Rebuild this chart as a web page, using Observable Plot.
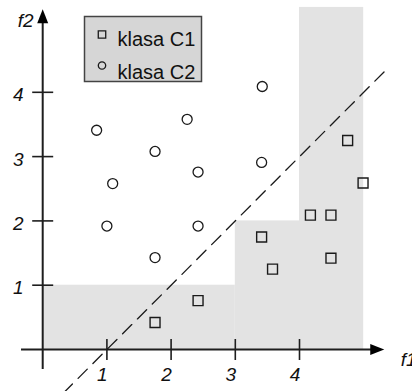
<!DOCTYPE html>
<html>
<head>
<meta charset="utf-8">
<script src="https://cdn.jsdelivr.net/npm/d3@7"></script>
<script src="https://cdn.jsdelivr.net/npm/@observablehq/plot@0.6"></script>
<style>
  html, body { margin: 0; padding: 0; background: #fff; }
  #chart svg { display: block; }
</style>
</head>
<body>
<div id="chart"></div>
<script>
// Class C1 samples (squares)
const c1X = [1.75, 2.42, 3.41, 3.58, 4.17, 4.49, 4.49, 4.75, 4.99];
const c1Y = [0.42, 0.76, 1.75, 1.25, 2.09, 2.09, 1.42, 3.25, 2.59];

// Class C2 samples (circles)
const c2X = [3.42, 2.25, 0.84, 1.75, 2.42, 3.41, 1.09, 1.00, 2.42, 1.75];
const c2Y = [4.09, 3.58, 3.41, 3.08, 2.76, 2.91, 2.58, 1.92, 1.92, 1.43];

// Staircase decision region for C1
const stepX1 = [0, 3, 4];
const stepX2 = [3, 4, 5];
const stepTop = [1, 2, 5.32];

// Linear boundary f2 = f1 - 1
const boundaryX = [0.32, 5.33];
const boundaryY = [-0.68, 4.33];

// Axes
const xTicks = [1, 2, 3, 4];
const yTicks = [1, 2, 3, 4];
const xAxisEnds = [-0.33, 5.32];
const yAxisEnds = [-0.31, 5.29];
const axisNames = ["f1", "f2"];

// Legend
const legendLabels = ["klasa C1", "klasa C2"];
const legendSymbols = ["square", "circle"];

const regions = stepX1.map((x1, i) => ({x1, x2: stepX2[i], top: stepTop[i]}));
const c1 = c1X.map((x, i) => ({x, y: c1Y[i]}));
const c2 = c2X.map((x, i) => ({x, y: c2Y[i]}));
const boundary = boundaryX.map((x, i) => ({x, y: boundaryY[i]}));

// Filled arrow head, tip at the origin, pointing up
const arrowHead = {
  draw(ctx) {
    ctx.moveTo(0, 0);
    ctx.lineTo(-5.5, 14);
    ctx.lineTo(5.5, 14);
    ctx.closePath();
  }
};
// Tick that crosses the axis
const crossTick = {
  draw(ctx) {
    ctx.moveTo(0, -10.5);
    ctx.lineTo(0, 10.5);
  }
};

const axisColor = "#1e1e1e";
const ink = "#1a1a1a";
const textColor = "#111";

const legendMarks = legendLabels.flatMap((label, i) => [
  Plot.dot([label], {
    frameAnchor: "top-left", dx: 101.5, dy: 34 + i * 31,
    symbol: legendSymbols[i], r: legendSymbols[i] === "square" ? 4.2 : 3.7,
    fill: "none", stroke: ink, strokeWidth: 1.3
  }),
  Plot.text([label], {
    frameAnchor: "top-left", dx: 117, dy: 31.5 + i * 32.5,
    text: d => d, textAnchor: "start", fontSize: 20, fill: textColor
  })
]);

const chart = Plot.plot({
  width: 412,
  height: 391,
  margin: 0,
  style: {fontFamily: "'Liberation Sans', Arial, sans-serif", background: "#fff"},
  x: {domain: [0, 5], range: [42.2, 363.2], axis: null},
  y: {domain: [0, 5], range: [349, 27.5], axis: null},
  marks: [
    // decision region
    Plot.rect(regions, {x1: "x1", x2: "x2", y1: 0, y2: "top", fill: "#e3e3e3"}),
    // legend box
    Plot.frame({fill: "#d6d6d6", stroke: "#444", strokeWidth: 1.5,
      insetLeft: 84, insetTop: 16, insetRight: 211, insetBottom: 310}),
    ...legendMarks,
    // axes
    Plot.ruleY([0], {x1: xAxisEnds[0], x2: xAxisEnds[1] - 0.1, stroke: axisColor, strokeWidth: 2}),
    Plot.ruleX([0], {y1: yAxisEnds[0], y2: yAxisEnds[1] - 0.1, stroke: axisColor, strokeWidth: 2}),
    Plot.dot([0], {x: xAxisEnds[1], y: 0, symbol: arrowHead, rotate: 90, fill: "#000", stroke: "none"}),
    Plot.dot([0], {x: 0, y: yAxisEnds[1], symbol: arrowHead, fill: "#000", stroke: "none"}),
    Plot.dot(xTicks, {x: d => d, y: 0, symbol: crossTick, fill: "none", stroke: axisColor, strokeWidth: 1.6}),
    Plot.dot(yTicks, {x: 0, y: d => d, symbol: crossTick, rotate: 90, fill: "none", stroke: axisColor, strokeWidth: 1.6}),
    Plot.text(xTicks, {x: d => d, y: 0, text: d => String(d), dy: 25, dx: -4.5,
      fontSize: 19, fontStyle: "italic", fill: textColor}),
    Plot.text(yTicks, {x: 0, y: d => d, text: d => String(d), dx: -19, dy: 3, textAnchor: "end",
      fontSize: 19, fontStyle: "italic", fill: textColor}),
    Plot.text([axisNames[0]], {x: xAxisEnds[1], y: 0, text: d => d, dx: 16.5, dy: 10,
      textAnchor: "start", fontSize: 19, fontStyle: "italic", fill: textColor}),
    Plot.text([axisNames[1]], {x: 0, y: yAxisEnds[1], text: d => d, dx: -25, dy: 12,
      textAnchor: "start", fontSize: 19, fontStyle: "italic", fill: textColor}),
    // linear boundary
    Plot.line(boundary, {x: "x", y: "y", stroke: ink, strokeWidth: 1.3, strokeDasharray: "13,8"}),
    // samples
    Plot.dot(c1, {x: "x", y: "y", symbol: "square", r: 5.6, fill: "none", stroke: ink, strokeWidth: 1.4}),
    Plot.dot(c2, {x: "x", y: "y", symbol: "circle", r: 5, fill: "none", stroke: ink, strokeWidth: 1.3})
  ]
});

document.getElementById("chart").appendChild(chart);
</script>
</body>
</html>
